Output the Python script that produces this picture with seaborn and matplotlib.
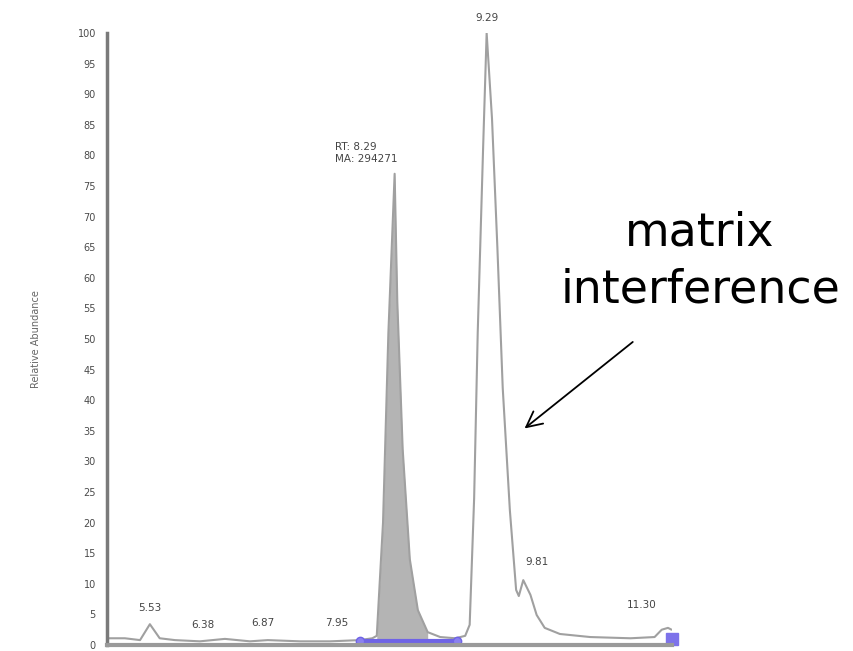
import matplotlib
matplotlib.use("Agg")
import matplotlib.pyplot as plt
import seaborn as sns
import pandas as pd
import numpy as np

# ---- data ----
rt_min = [5.05, 5.25, 5.42, 5.53, 5.64, 5.81, 6.09, 6.37, 6.65, 6.85, 7.21, 7.55,
          7.88, 8.02, 8.07, 8.14, 8.20, 8.27, 8.30, 8.36, 8.44, 8.53, 8.64, 8.78,
          8.95, 9.06, 9.11, 9.16, 9.20, 9.26, 9.30, 9.36, 9.42, 9.48, 9.56, 9.63,
          9.66, 9.71, 9.79, 9.86, 9.95, 10.12, 10.46, 10.91, 11.18, 11.26, 11.33, 11.37]
abundance = [1.1, 1.1, 0.8, 3.4, 1.1, 0.8, 0.6, 1.0, 0.6, 0.8, 0.6, 0.6,
             0.8, 1.1, 1.5, 20, 51, 77, 56, 32, 14, 5.7, 2.1, 1.3,
             1.1, 1.5, 3.3, 24, 51, 81, 100, 86, 65, 42, 22, 9,
             8, 10.6, 8.2, 4.9, 2.8, 1.8, 1.3, 1.1, 1.3, 2.5, 2.8, 2.5]

integrated_start = 8.07
integrated_end = 8.70
baseline_marker = [7.88, 8.97]

peak_rt = [5.53, 6.38, 6.87, 7.95, 9.29, 9.81, 11.30]
peak_labels = ["5.53", "6.38", "6.87", "7.95", "9.29", "9.81", "11.30"]
label_x = [5.53, 6.12, 6.80, 7.62, 9.30, 9.86, 11.04]
label_y = [5.2, 2.4, 2.8, 2.8, 101.6, 12.7, 5.7]

rt_text = "RT: 8.29\nMA: 294271"
y_ticks = list(range(0, 101, 5))

df = pd.DataFrame({"RT": rt_min, "Abundance": abundance})

sns.set_style("white")
plt.rcParams["font.family"] = ["DejaVu Sans"]

fig = plt.figure(figsize=(8.54, 6.51), dpi=100)
ax = fig.add_axes([107/854, 6/651, (672-107)/854, (645-33)/651])

sns.lineplot(data=df, x="RT", y="Abundance", ax=ax, color="#a0a0a0", lw=1.5,
             sort=False, estimator=None)

rt_arr = np.array(rt_min)
ab_arr = np.array(abundance)
mask = (rt_arr >= integrated_start) & (rt_arr <= integrated_end)
ax.fill_between(rt_arr[mask], 0.9, ab_arr[mask], color="#b4b4b4", lw=0)

# integration baseline marker
ax.plot(baseline_marker, [0.7, 0.7], color="#6f63e6", lw=3, solid_capstyle="round",
        marker="o", markersize=6, markerfacecolor="#8a80f0", clip_on=False)
ax.plot([11.37], [0.9], marker="s", color="#7d72ea", markersize=9, clip_on=False)

ax.set_xlim(5.05, 11.375)
ax.set_ylim(0, 100)
ax.set_yticks(y_ticks)
ax.set_yticklabels([str(v) for v in y_ticks], fontsize=7, color="#4a4a4a")
ax.set_yticks(range(0, 101, 1), minor=True)
ax.tick_params(axis="y", which="major", length=6, width=1.2, color="#777777", pad=2)
ax.tick_params(axis="y", which="minor", length=3, width=0.8, color="#999999")
ax.set_xticks([])
ax.set_xlabel("")
ax.set_ylabel("Relative Abundance", fontsize=7, color="#666666", labelpad=26)

for s in ["top", "right"]:
    ax.spines[s].set_visible(False)
ax.spines["left"].set_color("#7a7a7a")
ax.spines["left"].set_linewidth(2.5)
ax.spines["bottom"].set_color("#9a9a9a")
ax.spines["bottom"].set_linewidth(3)

for lx, ly, t in zip(label_x, label_y, peak_labels):
    ax.text(lx, ly, t, fontsize=7.5, color="#444444", ha="center", va="bottom",
            clip_on=False)

ax.text(7.60, 80.4, rt_text, fontsize=7.5, color="#444444", ha="left", va="center",
        linespacing=1.25)

# annotation
ax.annotate("", xy=(9.70, 35.1), xytext=(10.96, 49.8),
            arrowprops=dict(arrowstyle="->", lw=1.3, color="black",
                            mutation_scale=28), annotation_clip=False)
fig.text(700/854, 1-233/651, "matrix", fontsize=33, ha="center", va="center",
         color="black")
fig.text(701/854, 1-290/651, "interference", fontsize=33, ha="center", va="center",
         color="black")

fig.savefig("out.png", dpi=100)
